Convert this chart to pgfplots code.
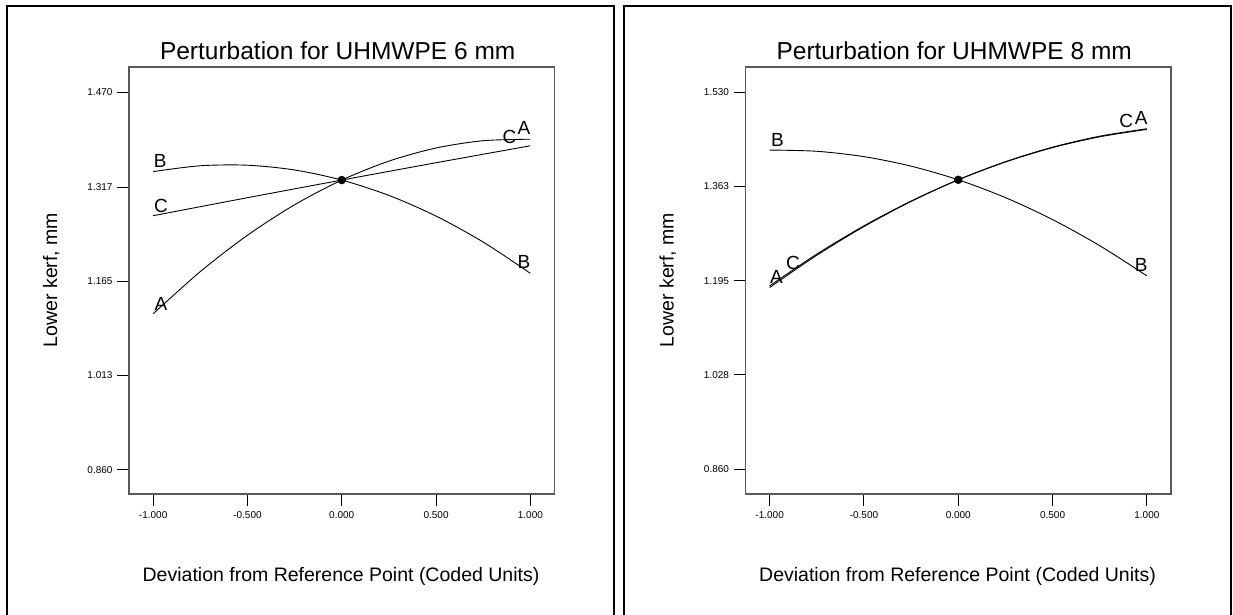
\documentclass[border=0pt]{standalone}
\usepackage{pgfplots}
\pgfplotsset{compat=1.18}
\usepackage{fontspec}
\setmainfont{Liberation Sans}

\pgfplotsset{
  panel/.style={
    scale only axis, width=425.5pt, height=427pt,
    xmin=-1.128, xmax=1.128,
    axis line style={draw=black!65, line width=1.1pt},
    tick align=outside, major tick length=12pt,
    xtick pos=lower, ytick pos=left,
    tick style={black, line width=1pt},
    xtick={-1,-0.5,0,0.5,1},
    xticklabels={-1.000,-0.500,0.000,0.500,1.000},
    tick label style={font=\fontsize{10}{11}\selectfont},
    xticklabel style={yshift=-1.5pt},
    yticklabel style={xshift=-1pt},
    clip=false,
    anchor=south west,
  },
  curve/.style={black, line width=0.9pt, smooth, no markers},
}
\tikzset{lbl/.style={font=\fontsize{19}{20}\selectfont, inner sep=0pt, anchor=center}}

\begin{document}
\begin{tikzpicture}
\useasboundingbox (0pt,0pt) rectangle (1233pt,614pt);
\draw[line width=2pt] (7pt,-5pt) -- (7pt,608pt) -- (614pt,608pt) -- (614pt,-5pt);
\draw[line width=2pt] (623.7pt,-5pt) -- (623.7pt,608pt) -- (1231pt,608pt) -- (1231pt,-5pt);

% ---------- Left panel: UHMWPE 6 mm ----------
\begin{axis}[panel, at={(129pt,120pt)},
  ymin=0.821, ymax=1.511,
  ytick={0.860,1.013,1.165,1.317,1.470},
  yticklabels={0.860,1.013,1.165,1.317,1.470}]
\addplot[curve] coordinates {(-1,1.1123) (-0.75,1.1804) (-0.5,1.2391) (-0.25,1.2884) (0,1.3283) (0.25,1.3589) (0.5,1.3801) (0.75,1.3919) (1,1.3943)};
\addplot[curve] coordinates {(-1,1.3420) (-0.75,1.3514) (-0.5,1.3523) (-0.25,1.3446) (0,1.3283) (0.25,1.3035) (0.5,1.2701) (0.75,1.2281) (1,1.1776)};
\addplot[curve] coordinates {(-1,1.2707) (-0.5,1.2998) (0,1.3283) (0.5,1.3563) (1,1.3837)};
\addplot[only marks, mark=*, mark size=4pt, black] coordinates {(0,1.3283)};
\node[lbl] at (axis cs:-0.959,1.1275) {A};
\node[lbl] at (axis cs:-0.962,1.359) {B};
\node[lbl] at (axis cs:-0.959,1.2868) {C};
\node[lbl] at (axis cs:0.966,1.4118) {A};
\node[lbl] at (axis cs:0.966,1.1963) {B};
\node[lbl] at (axis cs:0.889,1.3973) {C};
\end{axis}

% ---------- Right panel: UHMWPE 8 mm ----------
\begin{axis}[panel, at={(745.5pt,120pt)},
  ymin=0.8165, ymax=1.5744,
  ytick={0.860,1.028,1.195,1.363,1.530},
  yticklabels={0.860,1.028,1.195,1.363,1.530}]
\addplot[curve] coordinates {(-1,1.1830) (-0.75,1.2402) (-0.5,1.2912) (-0.25,1.3358) (0,1.3742) (0.25,1.4063) (0.5,1.4321) (0.75,1.4516) (1,1.4648)};
\addplot[curve] coordinates {(-1,1.4270) (-0.75,1.4248) (-0.5,1.4153) (-0.25,1.3984) (0,1.3742) (0.25,1.3426) (0.5,1.3036) (0.75,1.2573) (1,1.2037)};
\addplot[curve] coordinates {(-1,1.1860) (-0.75,1.2423) (-0.5,1.2925) (-0.25,1.3364) (0,1.3742) (0.25,1.4058) (0.5,1.4313) (0.75,1.4505) (1,1.4636)};
\addplot[only marks, mark=*, mark size=4pt, black] coordinates {(0,1.3742)};
\node[lbl] at (axis cs:-0.964,1.2025) {A};
\node[lbl] at (axis cs:-0.959,1.4453) {B};
\node[lbl] at (axis cs:-0.876,1.2273) {C};
\node[lbl] at (axis cs:0.970,1.4838) {A};
\node[lbl] at (axis cs:0.970,1.2233) {B};
\node[lbl] at (axis cs:0.891,1.4778) {C};
\end{axis}

% ---------- Titles and axis labels ----------
\node[font=\fontsize{24.5}{26}\selectfont, anchor=base] at (337.7pt,554.4pt) {Perturbation for UHMWPE 6 mm};
\node[font=\fontsize{24.5}{26}\selectfont, anchor=base] at (954.2pt,554.4pt) {Perturbation for UHMWPE 8 mm};
\node[font=\fontsize{19.5}{21}\selectfont, anchor=base] at (341pt,32.3pt) {Deviation from Reference Point (Coded Units)};
\node[font=\fontsize{19.5}{21}\selectfont, anchor=base] at (957.5pt,32.3pt) {Deviation from Reference Point (Coded Units)};
\node[font=\fontsize{19.5}{21}\selectfont, anchor=base, rotate=90] at (57pt,334pt) {Lower kerf, mm};
\node[font=\fontsize{19.5}{21}\selectfont, anchor=base, rotate=90] at (673.5pt,334pt) {Lower kerf, mm};
\end{tikzpicture}
\end{document}
